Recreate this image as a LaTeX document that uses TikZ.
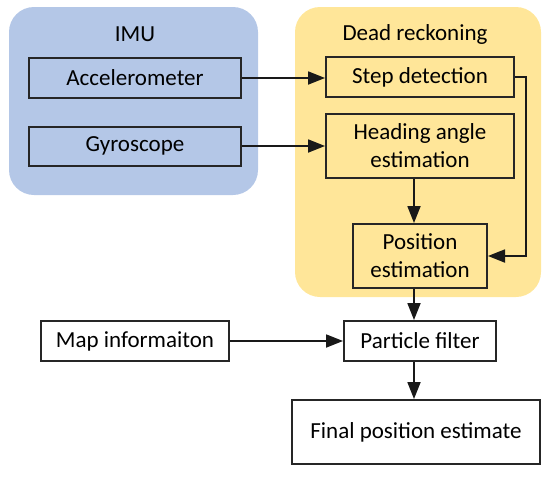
\documentclass[tikz,border=0pt]{standalone}
\usepackage{fontspec}
\setmainfont{Carlito}
\usetikzlibrary{arrows.meta}
\definecolor{imublue}{HTML}{B4C7E7}
\definecolor{drgold}{HTML}{FFE699}
\begin{document}
\begin{tikzpicture}[x=1pt,y=-1pt,
  box/.style={draw=black!85,line width=2pt,inner sep=0pt,align=center,
    font=\fontsize{23}{28}\selectfont},
  grp/.style={rounded corners=25pt},
  lbl/.style={inner sep=0pt,font=\fontsize{23}{28}\selectfont},
  conn/.style={line width=1.8pt,draw=black!90,-{Triangle[length=17pt,width=13pt]}}]
\useasboundingbox (0,0) rectangle (550,477);
\fill[imublue,grp] (9,7) rectangle (258,195);
\fill[drgold,grp] (295,7) rectangle (541,297);
\node[lbl] (imu) at (135,34) {IMU};
\node[lbl] (dr) at (415,34) {Dead reckoning};
\node[box,minimum width=212pt,minimum height=40pt] (acc) at (135,78) {Accelerometer};
\node[box,minimum width=212pt,minimum height=39pt] (gyro) at (135,146) {Gyroscope};
\node[box,minimum width=188pt,minimum height=40pt] (step) at (420,77) {Step detection};
\node[box,minimum width=188pt,minimum height=64pt] (hd) at (420,146) {Heading angle\\estimation};
\node[box,minimum width=134pt,minimum height=64pt] (pos) at (420,256) {Position\\estimation};
\node[box,fill=white,minimum width=188pt,minimum height=40pt] (map) at (135,341) {Map informaiton};
\node[box,fill=white,minimum width=152pt,minimum height=40pt] (pf) at (420,341) {Particle filter};
\node[box,fill=white,minimum width=248pt,minimum height=64pt] (fin) at (416,432) {Final position estimate};
\coordinate (col) at (414,0);
\coordinate (rt) at (526,0);
\draw[conn] (acc.east) -- (acc.east -| step.west);
\draw[conn] (gyro.east) -- (gyro.east -| hd.west);
\draw[conn] (step.east) -- (step.east -| rt) |- (pos.east);
\draw[conn] (hd.south -| col) -- (pos.north -| col);
\draw[conn] (pos.south -| col) -- (pf.north -| col);
\draw[conn] (map.east) -- (pf.west);
\draw[conn] (pf.south -| col) -- (fin.north -| col);
\end{tikzpicture}
\end{document}
